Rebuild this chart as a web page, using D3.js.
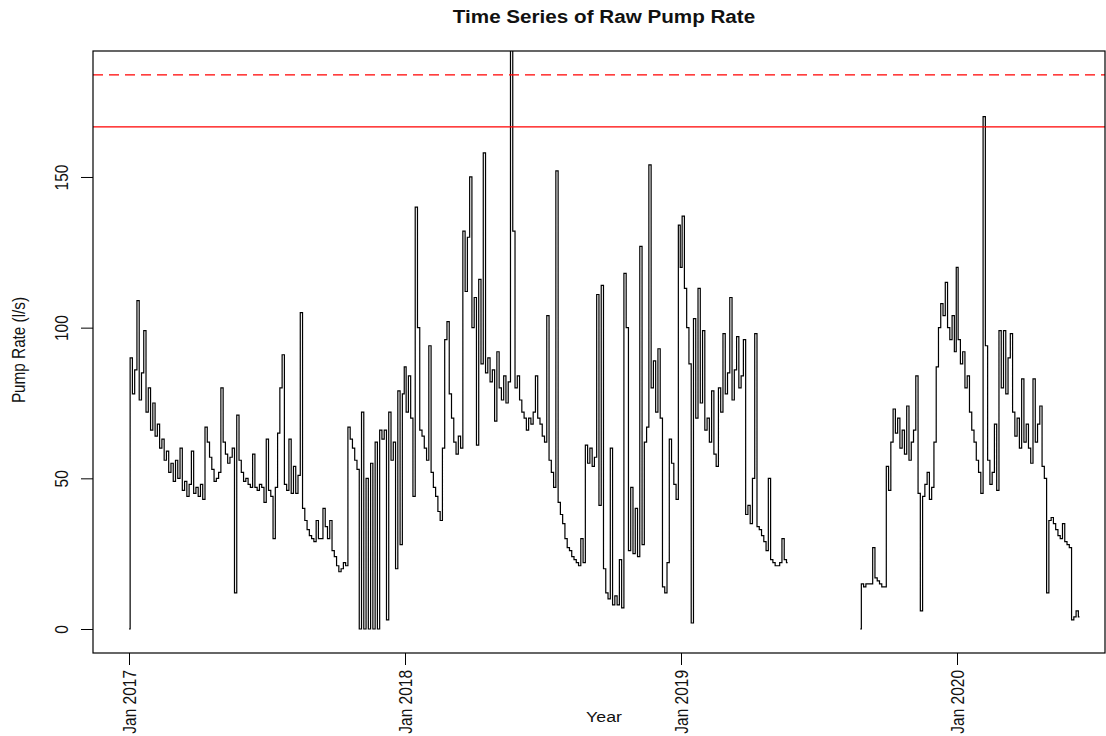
<!DOCTYPE html>
<html>
<head>
<meta charset="utf-8">
<script src="https://cdn.jsdelivr.net/npm/d3@7"></script>
<style>
  body { margin: 0; background: #fff; }
  text { font-family: "Liberation Sans", Arial, sans-serif; fill: #111; }
</style>
</head>
<body>
<svg id="chart"></svg>
<script>
// readings every 3 days from 1 Jan of each year (l/s)
var stepDays = 3;
var years = [2017, 2018, 2019, 2020];

var v2017 = [0, 90, 78, 86, 109, 76, 85, 99, 72, 80, 66, 75, 64, 68, 60, 63, 56, 59, 52, 55,
  49, 56, 50, 60, 46, 49, 44, 48, 59, 45, 47, 44, 48, 43, 67, 62, 57, 53, 49, 50,
  52, 80, 62, 58, 55, 57, 60, 12, 71, 56, 52, 49, 50, 48, 47, 58, 47, 46, 48, 47,
  42, 63, 46, 44, 30, 47, 65, 80, 91, 48, 46, 63, 45, 54, 45, 51, 105, 40, 36, 33,
  31, 30, 29, 36, 30, 30, 40, 34, 30, 36, 26, 24, 21, 19, 20, 22, 21, 67, 63, 60,
  56, 53, 0, 72, 0, 50, 0, 55, 0, 62, 0, 66, 63, 66, 3, 72, 56, 62, 20, 79,
  28, 78];

var v2018 = [87, 72, 84, 70, 44, 140, 100, 66, 64, 60, 56, 94, 52, 47, 44, 39, 36, 60, 96, 102,
  78, 70, 62, 58, 64, 60, 132, 112, 130, 150, 100, 110, 61, 116, 88, 158, 85, 90, 82, 86,
  69, 92, 80, 76, 84, 75, 82, 200, 132, 80, 84, 76, 72, 70, 66, 70, 68, 72, 84, 70,
  68, 64, 62, 104, 56, 52, 47, 152, 42, 38, 35, 30, 27, 26, 24, 23, 22, 21, 30, 22,
  61, 55, 60, 54, 57, 111, 41, 114, 20, 12, 10, 60, 8, 11, 8, 23, 7, 118, 100, 26,
  47, 25, 40, 24, 127, 28, 62, 67, 154, 80, 89, 72, 93, 70, 14, 12, 22, 63, 55, 48,
  43, 134];

var v2019 = [120, 137, 113, 100, 88, 2, 103, 70, 113, 75, 99, 66, 70, 62, 79, 58, 54, 80, 72, 98,
  78, 85, 110, 76, 86, 97, 80, 84, 96, 38, 41, 35, 50, 98, 34, 33, 31, 29, 26, 50,
  23, 22, 21, 21, 22, 30, 23, 22,
  null, null, null, null, null, null, null, null, null, null, null, null, null, null, null, null,
  null, null, null, null, null, null, null, null, null, null, null, null, null, null, null,
  0, 15, 14, 15, 15, 15, 27, 17, 16, 15, 14, 14, 54, 46, 62, 73, 65, 70, 60, 66,
  58, 74, 56, 62, 66, 84, 45, 6, 44, 48, 52, 43, 47, 62, 87, 100, 108, 104, 115, 100,
  96, 104, 92];

var v2020 = [120, 96, 88, 92, 80, 84, 72, 66, 62, 56, 52, 45, 170, 94, 56, 48, 52, 68, 46, 99,
  80, 99, 78, 90, 98, 72, 64, 70, 60, 83, 62, 68, 60, 55, 83, 62, 68, 74, 54, 50,
  12, 36, 37, 35, 33, 31, 30, 35, 29, 28, 27, 3, 4, 6, 4];

var yTicks = [0, 50, 100, 150];
var thresholds = [166.6, 183.9];   // solid, dashed

var W = 1106, H = 736;
var box = {left: 93, right: 1105, top: 51, bottom: 653};
var sx = 1.16; // horizontal stretch of the text in the picture

var svg = d3.select("#chart").attr("width", W).attr("height", H);

var series = [v2017, v2018, v2019, v2020];
var data = [];
series.forEach((vals, k) => {
  vals.forEach((v, i) => {
    data.push({date: d3.timeDay.offset(new Date(years[k], 0, 1), i * stepDays), value: v});
  });
});

var x = d3.scaleTime()
  .domain([new Date(2017, 0, 1), new Date(2020, 0, 1)])
  .range([129, 957]);

var y = d3.scaleLinear()
  .domain([-7.96, 191.8])
  .range([box.bottom, box.top]);

svg.append("defs").append("clipPath").attr("id", "clip")
  .append("rect")
  .attr("x", box.left).attr("y", box.top)
  .attr("width", box.right - box.left).attr("height", box.bottom - box.top);

// series (dense record, drawn as steps so the spikes stay vertical)
var line = d3.line()
  .defined(d => d.value != null)
  .curve(d3.curveStep)
  .x(d => x(d.date))
  .y(d => y(d.value));

svg.append("path")
  .datum(data)
  .attr("clip-path", "url(#clip)")
  .attr("fill", "none")
  .attr("stroke", "#000")
  .attr("stroke-width", 1.2)
  .attr("d", line);

// threshold lines
svg.selectAll(".thr")
  .data(thresholds)
  .enter()
  .append("line")
  .attr("class", "thr")
  .attr("x1", box.left).attr("x2", box.right)
  .attr("y1", d => y(d)).attr("y2", d => y(d))
  .attr("stroke", "#ff0000")
  .attr("stroke-width", 1.3)
  .attr("stroke-dasharray", (d, i) => i == 1 ? "10,6" : null);

// box
svg.append("rect")
  .attr("x", box.left).attr("y", box.top)
  .attr("width", box.right - box.left).attr("height", box.bottom - box.top)
  .attr("fill", "none").attr("stroke", "#000").attr("stroke-width", 1.2);

// axes
var yAxis = svg.append("g")
  .attr("transform", "translate(" + box.left + ",0)")
  .call(d3.axisLeft(y).tickValues(yTicks).tickSize(12).tickFormat(d3.format("d")));
yAxis.select(".domain").remove();
yAxis.selectAll("line").attr("stroke", "#000");
yAxis.selectAll("text")
  .attr("x", null).attr("dy", null)
  .attr("text-anchor", "middle")
  .attr("font-size", "15.5px")
  .attr("transform", "translate(-25,0) scale(" + sx + ",1) rotate(-90)");

var xAxis = svg.append("g")
  .attr("transform", "translate(0," + box.bottom + ")")
  .call(d3.axisBottom(x)
    .tickValues(years.map(yr => new Date(yr, 0, 1)))
    .tickSize(12)
    .tickFormat(d3.timeFormat("%b %Y")));
xAxis.select(".domain").remove();
xAxis.selectAll("line").attr("stroke", "#000");
xAxis.selectAll("text")
  .attr("y", null).attr("dy", null)
  .attr("text-anchor", "end")
  .attr("font-size", "15.5px")
  .attr("transform", "translate(6,17) scale(" + sx + ",1) rotate(-90)");

// labels
svg.append("text")
  .attr("transform", "translate(604,23) scale(" + sx + ",1)")
  .attr("text-anchor", "middle")
  .attr("font-weight", "bold")
  .attr("font-size", "17.8px")
  .text("Time Series of Raw Pump Rate");

svg.append("text")
  .attr("transform", "translate(604,722) scale(" + sx + ",1)")
  .attr("text-anchor", "middle")
  .attr("font-size", "15.3px")
  .text("Year");

svg.append("text")
  .attr("transform", "translate(25,350) scale(" + sx + ",1) rotate(-90)")
  .attr("text-anchor", "middle")
  .attr("font-size", "15.3px")
  .text("Pump Rate (l/s)");
</script>
</body>
</html>
